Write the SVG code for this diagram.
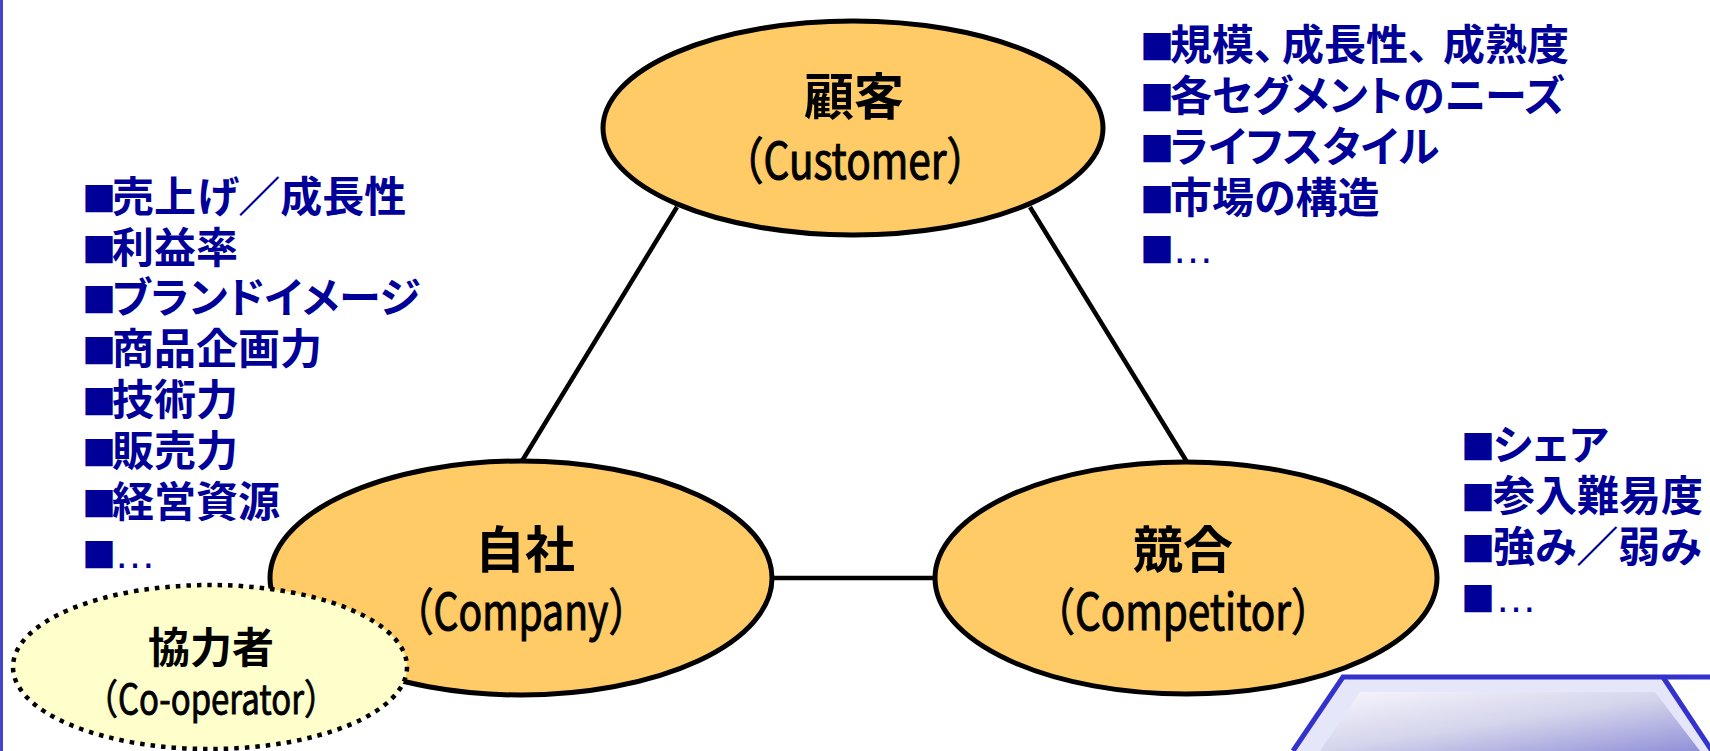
<svg xmlns="http://www.w3.org/2000/svg" width="1710" height="751" viewBox="0 0 1710 751">
<defs>
<linearGradient id="pad" x1="0" y1="0" x2="1" y2="1">
<stop offset="0" stop-color="#F8F6FC"/>
<stop offset="0.5" stop-color="#D4D4EC"/>
<stop offset="1" stop-color="#9090D8"/>
</linearGradient>
</defs>
<style>
.ell{fill:#FECB66;stroke:#000;stroke-width:5}
.coop{fill:#FFFFCC;stroke:#000;stroke-width:4.5;stroke-dasharray:4.5 6}
.conn{stroke:#000;stroke-width:4.5;fill:none}
.lbl{font-family:"Noto Sans CJK JP","Noto Sans",sans-serif;fill:#000;text-anchor:middle}
.jp{font-size:50px;font-weight:bold}
.en{font-size:50px;stroke:#000;stroke-width:1.1}
.list{font-family:"Noto Sans CJK JP","Noto Sans",sans-serif;font-size:42px;font-weight:bold;fill:#000099;font-feature-settings:"palt"}
.sq{font-size:34px}
.dots{font-family:"Liberation Sans",sans-serif;font-weight:normal}
</style>
<rect x="0" y="0" width="1710" height="751" fill="#fff"/>
<line x1="1.5" y1="0" x2="1.5" y2="751" stroke="#4444CC" stroke-width="3"/>

<g id="connectors">
<line class="conn" x1="677" y1="207" x2="522" y2="461"/>
<line class="conn" x1="1030" y1="207" x2="1187" y2="462"/>
<line class="conn" x1="772" y1="578" x2="935" y2="578"/>
</g>

<g id="company">
<ellipse class="ell" cx="521" cy="578" rx="251" ry="117"/>
<text class="lbl jp" x="525" y="568">自社</text>
<text class="lbl en" x="521" y="630" textLength="253" lengthAdjust="spacingAndGlyphs">（Company）</text>
</g>

<g id="competitor">
<ellipse class="ell" cx="1186" cy="578" rx="251" ry="116"/>
<text class="lbl jp" x="1183" y="568">競合</text>
<text class="lbl en" x="1183" y="630" textLength="297" lengthAdjust="spacingAndGlyphs">（Competitor）</text>
</g>

<g id="customer">
<ellipse class="ell" cx="853" cy="128" rx="250" ry="107"/>
<text class="lbl jp" x="854" y="115">顧客</text>
<text class="lbl en" x="855" y="179" textLength="264" lengthAdjust="spacingAndGlyphs">（Customer）</text>
</g>

<g id="cooperator">
<ellipse class="coop" cx="210" cy="667" rx="197" ry="82"/>
<text class="lbl" x="211" y="663" font-size="42" font-weight="bold">協力者</text>
<text class="lbl en" x="211" y="714" style="font-size:41px;stroke-width:0.9" textLength="252" lengthAdjust="spacingAndGlyphs">（Co-operator）</text>
</g>

<g id="company-list" class="list">
<text y="212"><tspan class="sq" x="82">■</tspan><tspan x="112">売上げ／成長性</tspan></text>
<text y="263"><tspan class="sq" x="82">■</tspan><tspan x="112">利益率</tspan></text>
<text y="313"><tspan class="sq" x="82">■</tspan><tspan x="112">ブランドイメージ</tspan></text>
<text y="364"><tspan class="sq" x="82">■</tspan><tspan x="112">商品企画力</tspan></text>
<text y="415"><tspan class="sq" x="82">■</tspan><tspan x="112">技術力</tspan></text>
<text y="466"><tspan class="sq" x="82">■</tspan><tspan x="112">販売力</tspan></text>
<text y="517"><tspan class="sq" x="82">■</tspan><tspan x="112">経営資源</tspan></text>
<text y="568"><tspan class="sq" x="82">■</tspan><tspan class="dots" x="114">…</tspan></text>
</g>

<g id="customer-list" class="list">
<text y="60"><tspan class="sq" x="1140">■</tspan><tspan x="1170">規模、</tspan><tspan x="1282">成長性、</tspan><tspan x="1443">成熟度</tspan></text>
<text y="111"><tspan class="sq" x="1140">■</tspan><tspan x="1170">各セグメントのニーズ</tspan></text>
<text y="162"><tspan class="sq" x="1140">■</tspan><tspan x="1170">ライフスタイル</tspan></text>
<text y="213"><tspan class="sq" x="1140">■</tspan><tspan x="1170">市場の構造</tspan></text>
<text y="263"><tspan class="sq" x="1140">■</tspan><tspan class="dots" x="1172">…</tspan></text>
</g>

<g id="competitor-list" class="list">
<text y="460"><tspan class="sq" x="1461">■</tspan><tspan x="1493">シェア</tspan></text>
<text y="511"><tspan class="sq" x="1461">■</tspan><tspan x="1493">参入難易度</tspan></text>
<text y="562"><tspan class="sq" x="1461">■</tspan><tspan x="1493">強み／弱み</tspan></text>
<text y="612"><tspan class="sq" x="1461">■</tspan><tspan class="dots" x="1495">…</tspan></text>
</g>

<g id="pad-decoration">
<polygon points="1343,677 1663,677 1712,751 1293,751" fill="#E6E6FA"/>
<polygon points="1360,692 1655,692 1700,751 1320,751" fill="url(#pad)"/>
<polyline points="1293,751 1343,677 1710,677" fill="none" stroke="#3333CC" stroke-width="5"/>
<line x1="1663" y1="677" x2="1712" y2="751" stroke="#3333CC" stroke-width="5"/>
</g>
</svg>
